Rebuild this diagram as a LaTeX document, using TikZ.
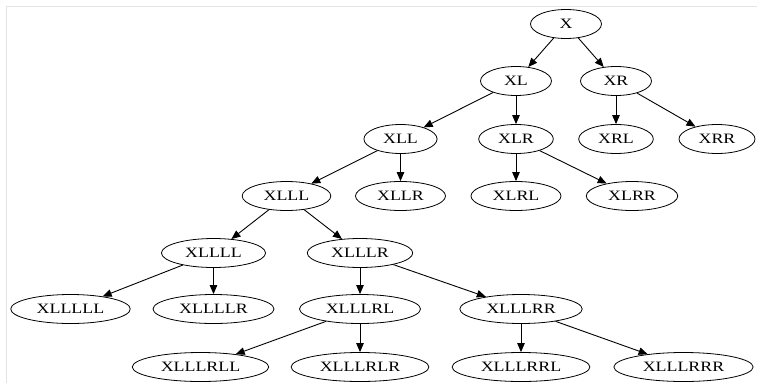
\documentclass[tikz,border=0pt]{standalone}
\usepackage{fontspec}
\setmainfont{Liberation Serif}[FakeStretch=1.25]
\usetikzlibrary{shapes.geometric}
\usetikzlibrary{arrows.meta}

\begin{document}
\begin{tikzpicture}[x=1pt, y=-1pt]
\tikzstyle{tnode} = [ellipse, draw, line width=0.8pt, inner xsep=8.5pt, inner ysep=2pt,
    minimum width=71pt, minimum height=29pt, font=\fontsize{14.3pt}{16pt}\selectfont]
\tikzstyle{line} = [draw, line width=0.9pt, -{Triangle[length=9pt,width=7.5pt]}]
\tikzstyle{frame} = [draw=gray!22, line width=1pt]

    \useasboundingbox (0,0) rectangle (757,383);
    \path [frame] (6,383) -- (6,6) -- (757,6);

    % Place nodes
    \node [tnode] (x) at (566,24) {X};
    \node [tnode] (xl) at (516,81) {XL};
    \node [tnode] (xr) at (616,81) {XR};
    \node [tnode] (xll) at (400.5,139) {XLL};
    \node [tnode] (xlr) at (516,139) {XLR};
    \node [tnode] (xrl) at (616,139) {XRL};
    \node [tnode] (xrr) at (717,139) {XRR};
    \node [tnode] (xlll) at (286.5,196) {XLLL};
    \node [tnode] (xllr) at (400.5,196) {XLLR};
    \node [tnode] (xlrl) at (516,196) {XLRL};
    \node [tnode] (xlrr) at (632,196) {XLRR};
    \node [tnode] (xllll) at (213.5,253) {XLLLL};
    \node [tnode] (xlllr) at (360,253) {XLLLR};
    \node [tnode] (xlllll) at (70.5,309) {XLLLLL};
    \node [tnode] (xllllr) at (213.5,309) {XLLLLR};
    \node [tnode] (xlllrl) at (360,309) {XLLLRL};
    \node [tnode] (xlllrr) at (521,309) {XLLLRR};
    \node [tnode] (xlllrll) at (200.5,367) {XLLLRLL};
    \node [tnode] (xlllrlr) at (360,367) {XLLLRLR};
    \node [tnode] (xlllrrl) at (521,367) {XLLLRRL};
    \node [tnode] (xlllrrr) at (683.5,367) {XLLLRRR};
    % Draw edges
    \path [line] (x) -- (xl);
    \path [line] (x) -- (xr);
    \path [line] (xl) -- (xll);
    \path [line] (xl) -- (xlr);
    \path [line] (xr) -- (xrl);
    \path [line] (xr) -- (xrr);
    \path [line] (xll) -- (xlll);
    \path [line] (xll) -- (xllr);
    \path [line] (xlr) -- (xlrl);
    \path [line] (xlr) -- (xlrr);
    \path [line] (xlll) -- (xllll);
    \path [line] (xlll) -- (xlllr);
    \path [line] (xllll) -- (xlllll);
    \path [line] (xllll) -- (xllllr);
    \path [line] (xlllr) -- (xlllrl);
    \path [line] (xlllr) -- (xlllrr);
    \path [line] (xlllrl) -- (xlllrll);
    \path [line] (xlllrl) -- (xlllrlr);
    \path [line] (xlllrr) -- (xlllrrl);
    \path [line] (xlllrr) -- (xlllrrr);
\end{tikzpicture}
\end{document}
